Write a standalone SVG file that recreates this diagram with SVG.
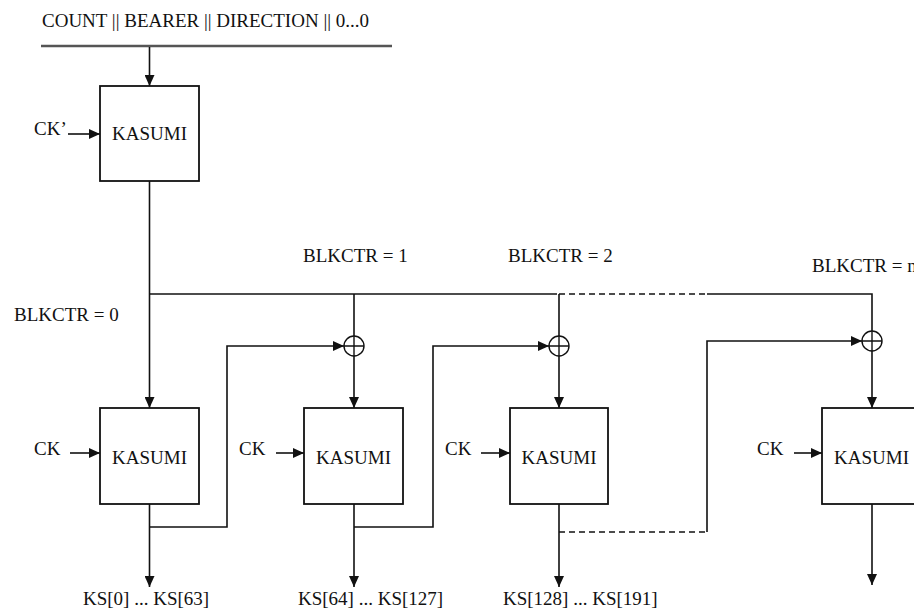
<svg xmlns="http://www.w3.org/2000/svg" width="914" height="609" viewBox="0 0 914 609" font-family="'Liberation Serif', 'Times New Roman', 'DejaVu Serif', serif">
<style>
text{font-family:'Liberation Serif','Times New Roman','DejaVu Serif',serif;font-size:19px;fill:#111}
.ln{stroke:#111;stroke-width:1.6;fill:none}
.dash{stroke:#111;stroke-width:1.4;fill:none;stroke-dasharray:6 4}
.box{fill:#fff;stroke:#111;stroke-width:1.8}
.xor{fill:none;stroke:#111;stroke-width:1.4}
</style>
<defs>
<marker id="ah" markerUnits="userSpaceOnUse" markerWidth="11" markerHeight="10" refX="11" refY="5" orient="auto">
<path d="M0,0 L11,5 L0,10 Z" fill="#111"/>
</marker>
</defs>
<rect width="914" height="609" fill="#fff"/>
<text x="42" y="27">COUNT || BEARER || DIRECTION || 0...0</text>
<line x1="41" y1="46" x2="392" y2="46" stroke="#555" stroke-width="2.6"/>
<text x="14" y="321">BLKCTR = 0</text>
<text x="303" y="262">BLKCTR = 1</text>
<text x="508" y="262">BLKCTR = 2</text>
<text x="812" y="272">BLKCTR = n</text>
<g id="connectors">
<line class="ln" x1="149.5" y1="47" x2="149.5" y2="86" marker-end="url(#ah)"/>
<line class="ln" x1="68" y1="134" x2="100" y2="134" marker-end="url(#ah)"/>
<line class="ln" x1="149.5" y1="181" x2="149.5" y2="408" marker-end="url(#ah)"/>
<polyline class="ln" points="149.5,294 557,294"/>
<line class="dash" x1="559" y1="294" x2="707" y2="294"/>
<polyline class="ln" points="707,294 872,294 872,331"/>
<line class="ln" x1="354" y1="294" x2="354" y2="336"/>
<line class="ln" x1="559" y1="294" x2="559" y2="336"/>
<line class="ln" x1="354" y1="356" x2="354" y2="408" marker-end="url(#ah)"/>
<line class="ln" x1="559" y1="356" x2="559" y2="408" marker-end="url(#ah)"/>
<line class="ln" x1="872" y1="351" x2="872" y2="408" marker-end="url(#ah)"/>
<polyline class="ln" points="149.5,527 227,527 227,346 344,346" marker-end="url(#ah)"/>
<polyline class="ln" points="354,527 433,527 433,346 549,346" marker-end="url(#ah)"/>
<line class="dash" x1="559" y1="532" x2="707" y2="532"/>
<polyline class="ln" points="707,532 707,341 862,341" marker-end="url(#ah)"/>
<line class="ln" x1="70" y1="453" x2="100" y2="453" marker-end="url(#ah)"/>
<line class="ln" x1="276" y1="453" x2="304" y2="453" marker-end="url(#ah)"/>
<line class="ln" x1="481" y1="453" x2="510" y2="453" marker-end="url(#ah)"/>
<line class="ln" x1="794" y1="453" x2="822" y2="453" marker-end="url(#ah)"/>
<line class="ln" x1="149.5" y1="504" x2="149.5" y2="587" marker-end="url(#ah)"/>
<line class="ln" x1="354" y1="504" x2="354" y2="587" marker-end="url(#ah)"/>
<line class="ln" x1="559" y1="504" x2="559" y2="587" marker-end="url(#ah)"/>
<line class="ln" x1="872" y1="504" x2="872" y2="585" marker-end="url(#ah)"/>
</g>
<g id="xor1"><circle class="xor" cx="354" cy="346" r="10"/><path class="xor" d="M344,346 H364 M354,336 V356"/></g>
<g id="xor2"><circle class="xor" cx="559" cy="346" r="10"/><path class="xor" d="M549,346 H569 M559,336 V356"/></g>
<g id="xor3"><circle class="xor" cx="872" cy="341" r="10"/><path class="xor" d="M862,341 H882 M872,331 V351"/></g>
<g id="kasumi0"><rect class="box" x="100" y="86" width="99" height="95"/><text x="149.5" y="140" text-anchor="middle">KASUMI</text></g>
<g id="ckp"><text x="34" y="135">CK’</text></g>
<g id="kasumi1"><rect class="box" x="100" y="408" width="99" height="96"/><text x="149.5" y="464" text-anchor="middle">KASUMI</text></g>
<g id="kasumi2"><rect class="box" x="304" y="408" width="99" height="96"/><text x="353.5" y="464" text-anchor="middle">KASUMI</text></g>
<g id="kasumi3"><rect class="box" x="510" y="408" width="98" height="96"/><text x="559" y="464" text-anchor="middle">KASUMI</text></g>
<g id="kasumi4"><rect class="box" x="822" y="408" width="99" height="96"/><text x="871.5" y="464" text-anchor="middle">KASUMI</text></g>
<g id="ck1"><text x="34" y="455">CK</text></g>
<g id="ck2"><text x="239" y="455">CK</text></g>
<g id="ck3"><text x="445" y="455">CK</text></g>
<g id="ck4"><text x="757" y="455">CK</text></g>
<g id="out1"><text x="83" y="605">KS[0] ... KS[63]</text></g>
<g id="out2"><text x="298" y="605">KS[64] ... KS[127]</text></g>
<g id="out3"><text x="503" y="605">KS[128] ... KS[191]</text></g>
</svg>
